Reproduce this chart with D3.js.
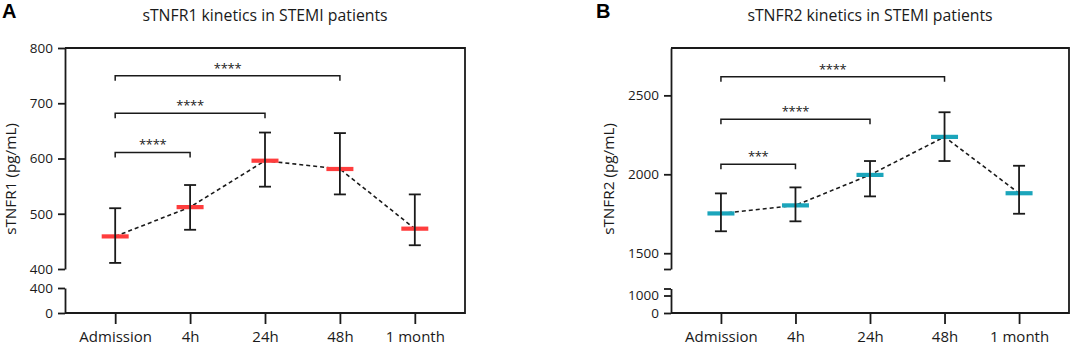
<!DOCTYPE html>
<html><head><meta charset="utf-8">
<script src="https://cdn.jsdelivr.net/npm/d3@7"></script>
<style>
body{margin:0;background:#fff;}
svg{display:block;font-family:"Open Sans",sans-serif;}
</style></head>
<body><svg id="c" width="1072" height="346"></svg>
<script>
const categories = ["Admission","4h","24h","48h","1 month"];
const r1Mean  = [459, 512, 596, 581, 473];
const r1Upper = [510, 552, 647, 646, 535];
const r1Lower = [411, 471, 549, 535, 443];
const r2Mean  = [1752, 1803, 1996, 2237, 1880];
const r2Upper = [1879, 1917, 2084, 2393, 2054];
const r2Lower = [1639, 1702, 1860, 2084, 1750];
const r1UpperTicks = [400, 500, 600, 700, 800];
const r1LowerTicks = [0, 400];
const r2UpperTicks = [1400, 1500, 2000, 2500];
const r2LowerTicks = [0, 1000, 1400];
const r2HiddenTicks = [1400];
const r1Sig = [{to:"4h", y:611, label:"****"},{to:"24h", y:682, label:"****"},{to:"48h", y:750, label:"****"}];
const r2Sig = [{to:"4h", y:2063, label:"***"},{to:"24h", y:2348, label:"****"},{to:"48h", y:2618, label:"****"}];

const svg = d3.select("#c");
const ink = "#1a1a1a";
const FONT = "'Open Sans',sans-serif";

function panel(o){
  const g = svg.append("g");
  const x = d3.scalePoint().domain(categories).range([o.left, o.right]).padding(0.67);
  const yU = d3.scaleLinear().domain(o.upperDomain).range([o.upperBottom, o.top]);
  const yL = d3.scaleLinear().domain(o.lowerDomain).range([o.bottom, o.lowerTop]);
  const fmt = d => o.hidden.includes(d) ? "" : d;

  g.append("path").attr("d", `M${o.left},${o.top}H${o.right}V${o.bottom}H${o.left}`)
    .attr("fill","none").attr("stroke",ink).attr("stroke-width",1.8);

  const axU = g.append("g").attr("transform",`translate(${o.left},0)`)
    .call(d3.axisLeft(yU).tickValues(o.upperTicks).tickFormat(fmt).tickSizeInner(7).tickSizeOuter(0).tickPadding(5));
  const axL = g.append("g").attr("transform",`translate(${o.left},0)`)
    .call(d3.axisLeft(yL).tickValues(o.lowerTicks).tickFormat(fmt).tickSizeInner(7).tickSizeOuter(0).tickPadding(5));
  [axU, axL].forEach(a=>{
    a.selectAll("path,line").attr("stroke",ink).attr("stroke-width",1.8);
    a.selectAll("text").attr("fill",ink).style("font-size","13.5px").style("font-family",FONT);
  });

  const axX = g.append("g").attr("transform",`translate(0,${o.bottom})`)
    .call(d3.axisBottom(x).tickSizeInner(11).tickSizeOuter(0).tickPadding(7));
  axX.select(".domain").remove();
  axX.selectAll("line").attr("stroke",ink).attr("stroke-width",1.8);
  axX.selectAll("text").attr("fill",ink).style("font-size","15px").style("font-family",FONT);

  g.append("path").datum(o.mean)
    .attr("d", d3.line().x((d,i)=>x(categories[i])).y(d=>yU(d)))
    .attr("fill","none").attr("stroke",ink).attr("stroke-width",1.6).attr("stroke-dasharray","4,3");

  g.selectAll(".mb").data(o.mean).join("line")
    .attr("x1",(d,i)=>x(categories[i])-13.5).attr("x2",(d,i)=>x(categories[i])+13.5)
    .attr("y1",d=>yU(d)).attr("y2",d=>yU(d))
    .attr("stroke",o.color).attr("stroke-width",4.2);

  const eb = g.selectAll(".eb").data(categories).join("g");
  eb.append("line").attr("x1",c=>x(c)).attr("x2",c=>x(c))
    .attr("y1",(c,i)=>yU(o.upper[i])).attr("y2",(c,i)=>yU(o.lower[i]))
    .attr("stroke",ink).attr("stroke-width",1.8);
  eb.append("line").attr("x1",c=>x(c)-6).attr("x2",c=>x(c)+6)
    .attr("y1",(c,i)=>yU(o.upper[i])).attr("y2",(c,i)=>yU(o.upper[i]))
    .attr("stroke",ink).attr("stroke-width",1.8);
  eb.append("line").attr("x1",c=>x(c)-6).attr("x2",c=>x(c)+6)
    .attr("y1",(c,i)=>yU(o.lower[i])).attr("y2",(c,i)=>yU(o.lower[i]))
    .attr("stroke",ink).attr("stroke-width",1.8);

  o.sig.forEach(s=>{
    const x1 = x(categories[0]), x2 = x(s.to), yy = yU(s.y);
    g.append("path").attr("d",`M${x1},${yy+5}V${yy}H${x2}V${yy+5}`)
      .attr("fill","none").attr("stroke",ink).attr("stroke-width",1.5);
    g.append("text").attr("x",(x1+x2)/2).attr("y",yy-3).attr("text-anchor","middle")
      .style("font-size","13px").style("font-family",FONT).attr("fill",ink).style("letter-spacing","-0.3px").text(s.label);
  });

  g.append("text").attr("x",(o.left+o.right)/2).attr("y",21).attr("text-anchor","middle")
    .style("font-size","15.8px").style("font-family",FONT).attr("fill",ink).text(o.title);
  g.append("text").attr("x",o.letterX).attr("y",18).style("font-size","20px").style("font-weight","bold")
    .style("font-family","'Liberation Sans',Arial,sans-serif").attr("fill","#000").text(o.letter);
  g.append("text").attr("transform",`translate(${o.ylabX},${o.ylabY}) rotate(-90)`)
    .attr("text-anchor","middle").style("font-size","15.3px").style("font-family",FONT).attr("fill",ink).text(o.ylabel);
}

panel({left:65, right:465, top:48, bottom:313, upperBottom:269, lowerTop:288,
  upperDomain:[400,800], lowerDomain:[0,400], upperTicks:r1UpperTicks, lowerTicks:r1LowerTicks, hidden:[],
  mean:r1Mean, upper:r1Upper, lower:r1Lower, color:"#ff3d3d", sig:r1Sig,
  title:"sTNFR1 kinetics in STEMI patients", letter:"A", letterX:2, ylabel:"sTNFR1 (pg/mL)", ylabX:16, ylabY:179});

panel({left:671, right:1069, top:48, bottom:313, upperBottom:269, lowerTop:288.5,
  upperDomain:[1400,2800], lowerDomain:[0,1400], upperTicks:r2UpperTicks, lowerTicks:r2LowerTicks, hidden:r2HiddenTicks,
  mean:r2Mean, upper:r2Upper, lower:r2Lower, color:"#1ba5bb", sig:r2Sig,
  title:"sTNFR2 kinetics in STEMI patients", letter:"B", letterX:596, ylabel:"sTNFR2 (pg/mL)", ylabX:614, ylabY:179});
</script></body></html>
